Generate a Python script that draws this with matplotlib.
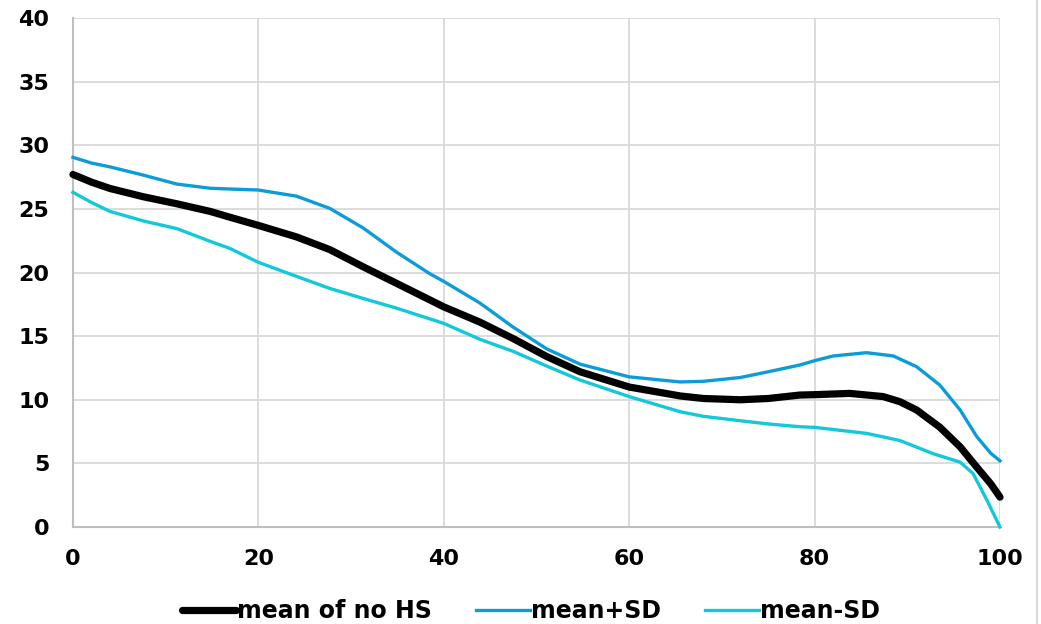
import numpy as np
import matplotlib.pyplot as plt
from matplotlib.lines import Line2D

plt.rcParams['font.family'] = ['DejaVu Sans']
plt.rcParams['font.weight'] = 'bold'

# mean of no HS
x_mean = [0, 2, 4, 7.6, 11.2, 14.8, 16.9, 20, 24.1, 27.7, 31.3, 34.9, 40, 43.9, 47.5, 51.1,
          54.7, 60, 65.5, 68, 72, 75, 78.4, 80, 83.8, 87.4, 89.2, 91, 93.5, 95.7, 97.5, 99, 100]
y_mean = [27.7, 27.1, 26.6, 25.95, 25.4, 24.8, 24.35, 23.7, 22.8, 21.8, 20.45, 19.15, 17.3,
          16.1, 14.8, 13.4, 12.2, 11.0, 10.3, 10.1, 10.0, 10.1, 10.37, 10.4, 10.5, 10.25, 9.85,
          9.2, 7.85, 6.3, 4.7, 3.4, 2.35]

# mean+SD
x_plus = [0, 2, 4, 7.6, 11.2, 14.8, 16.9, 20, 24.1, 27.7, 31.3, 34.9, 38.5, 40, 43.9, 47.5,
          51.1, 54.7, 60, 65.5, 68, 72, 75, 78.4, 80, 82, 85.6, 88.5, 91, 93.5, 95.7, 97.5,
          99, 100]
y_plus = [29.05, 28.6, 28.3, 27.65, 26.95, 26.62, 26.56, 26.48, 26.0, 25.04, 23.5, 21.6, 19.9,
          19.3, 17.6, 15.7, 14.0, 12.8, 11.8, 11.4, 11.45, 11.75, 12.2, 12.73, 13.07, 13.44,
          13.7, 13.44, 12.6, 11.16, 9.2, 7.1, 5.8, 5.2]

# mean-SD
x_minus = [0, 2, 4, 7.6, 11.2, 14.8, 16.9, 20, 24.1, 27.7, 31.3, 34.9, 40, 43.9, 47.5, 51.1,
           54.7, 60, 65.5, 68, 72, 75, 78.4, 80, 85.6, 89.2, 92.8, 95.7, 97.1, 98.6, 100]
y_minus = [26.3, 25.5, 24.8, 24.05, 23.45, 22.45, 21.9, 20.8, 19.7, 18.75, 17.96, 17.2, 16.0,
           14.75, 13.8, 12.65, 11.55, 10.25, 9.06, 8.7, 8.35, 8.1, 7.88, 7.83, 7.36, 6.8, 5.76,
           5.1, 4.2, 2.1, 0.0]

xticks = [0, 20, 40, 60, 80, 100]
yticks = [0, 5, 10, 15, 20, 25, 30, 35, 40]

fig = plt.figure(figsize=(10.41, 6.24), dpi=100)
ax = fig.add_axes([0.0701, 0.1554, 0.8905, 0.8158])

ax.plot(x_mean, y_mean, color='black', lw=5.2, solid_capstyle='round', solid_joinstyle='round',
        label='mean of no HS', zorder=4, clip_on=False)
ax.plot(x_plus, y_plus, color='#0C9CD8', lw=2.4, solid_joinstyle='round', label='mean+SD',
        zorder=3, clip_on=False)
ax.plot(x_minus, y_minus, color='#12C9D7', lw=2.4, solid_joinstyle='round', label='mean-SD',
        zorder=3, clip_on=False)

ax.set_xlim(0, 100)
ax.set_ylim(0, 40)
ax.set_xticks(xticks)
ax.set_yticks(yticks)
ax.grid(True, color='#d9d9d9', lw=1.3)
ax.set_axisbelow(True)
for s in ['top', 'right']:
    ax.spines[s].set_visible(False)
for s in ['left', 'bottom']:
    ax.spines[s].set_color('#bfbfbf')
    ax.spines[s].set_linewidth(1.5)
ax.tick_params(length=0, labelsize=16)
ax.tick_params(axis='y', pad=17)
ax.tick_params(axis='x', pad=16)

ax.legend(loc='upper center', bbox_to_anchor=(0.494, -0.1), ncol=3, frameon=False,
          fontsize=17, handlelength=2.3, handletextpad=0.05, columnspacing=1.85)

fig.add_artist(Line2D([0.9962, 0.9962], [0, 1], color='#d9d9d9', lw=1.5))

fig.savefig('out.png', dpi=100)
